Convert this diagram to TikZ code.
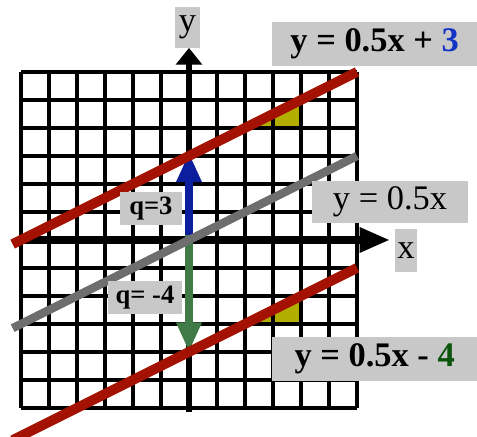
\documentclass[tikz,border=0pt]{standalone}
\usepackage{fontspec}
\setmainfont{Liberation Serif}
\usetikzlibrary{arrows.meta}
\definecolor{cline}{HTML}{A31200}
\definecolor{cgray}{HTML}{6E6E6E}
\definecolor{cblue}{HTML}{0A1E9E}
\definecolor{cgreen}{HTML}{3F7A47}
\definecolor{cthree}{HTML}{1233C4}
\definecolor{cfour}{HTML}{0B540B}
\definecolor{cbox}{HTML}{C8C8C8}
\definecolor{cslope}{HTML}{B3AD00}

\begin{document}
\begin{tikzpicture}[
    gridl/.style={line width=4.6pt},
    ax/.style={line width=7pt, black},
    ln/.style={line width=10pt, cline},
    lbl/.style={fill=cbox, inner sep=0pt, font=\fontsize{35}{37}\selectfont},
    blbl/.style={lbl, font=\fontsize{35}{37}\selectfont\bfseries},
    qlbl/.style={lbl, font=\fontsize{27}{29}\selectfont\bfseries},
    qarr/.style={line width=9pt, -{Triangle[length=30pt,width=24pt]}}]
  \useasboundingbox (-6.75,-7.036) rectangle (10.286,8.571);

  % slope triangles and grid
  \fill[cslope] (2,4) -- (4,4) -- (4,5) -- cycle;
  \fill[cslope] (2,-3) -- (4,-3) -- (4,-2) -- cycle;
  \draw[gridl] (-6,-6) grid (6,6);

  % axes
  \coordinate (xs) at (-6,0);
  \coordinate (xe) at (7.18,0);
  \coordinate (ys) at (0,-6.15);
  \coordinate (ye) at (0,6.86);
  \draw[ax, line width=7.5pt, -{Triangle[length=31pt,width=24pt]}] (xs) -- (xe);
  \draw[ax, line width=6.5pt, -{Triangle[length=17pt,width=26pt]}] (ys) -- (ye);

  % intercepts
  \coordinate (q0) at (0,0.17);
  \coordinate (q3) at (0,3.12);
  \coordinate (qm4) at (0,-4);
  \draw[qarr, cblue] (q0) -- (q3);
  \draw[qarr, cgreen] (q0) -- (qm4);

  % the three lines
  \coordinate (a1) at (-6.3,-0.15);
  \coordinate (b1) at (6,6);
  \coordinate (a0) at (-6.3,-3.15);
  \coordinate (b0) at (6,3);
  \coordinate (a2) at (-6.3,-7.15);
  \coordinate (b2) at (6,-1);
  \draw[ln, cgray, line width=8.5pt] (a0) -- (b0);
  \draw[ln] (a1) -- (b1);
  \draw[ln] (a2) -- (b2);

  % labels
  \node[lbl, minimum width=0.89cm, minimum height=1.46cm] (ly) at (-0.05,7.59) {y};
  \node[lbl, minimum width=0.79cm, minimum height=1.54cm] (lx) at (7.75,-0.39) {x};
  \node[qlbl, minimum width=2.21cm, minimum height=1.18cm] (lq3) at (-1.36,1.14) {q=3};
  \node[qlbl, minimum width=2.64cm, minimum height=1.18cm] (lqm4) at (-1.57,-2.04) {q= -4};
  \node[blbl, minimum width=7.32cm, minimum height=1.57cm] (lup) at (6.63,7.0)
       {y = 0.5x + \textcolor{cthree}{3}};
  \node[lbl, minimum width=5.57cm, minimum height=1.5cm] (lmid) at (7.18,1.36) {y = 0.5x};
  \node[blbl, minimum width=7.32cm, minimum height=1.57cm] (ldown) at (6.63,-4.25)
       {y = 0.5x - \textcolor{cfour}{4}};
\end{tikzpicture}
\end{document}
